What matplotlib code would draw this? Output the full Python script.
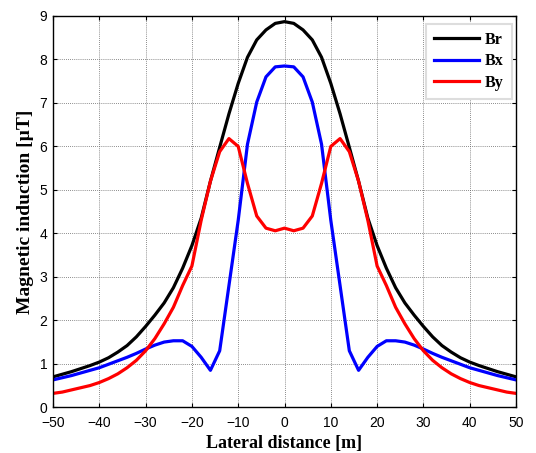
import matplotlib
matplotlib.use("Agg")
import matplotlib.pyplot as plt

x = [-50, -48, -46, -44, -42, -40, -38, -36, -34, -32, -30, -28, -26, -24, -22, -20,
     -18, -16, -14, -12, -10, -8, -6, -4, -2, 0,
     2, 4, 6, 8, 10, 12, 14, 16, 18,
     20, 22, 24, 26, 28, 30, 32, 34, 36, 38, 40, 42, 44, 46, 48, 50]

br = [0.70, 0.76, 0.82, 0.89, 0.96, 1.04, 1.14, 1.27, 1.42, 1.62, 1.86, 2.12, 2.40, 2.75, 3.20, 3.72,
      4.35, 5.20, 5.98, 6.75, 7.45, 8.05, 8.45, 8.68, 8.83, 8.87,
      8.83, 8.68, 8.45, 8.05, 7.45, 6.75, 5.98, 5.20, 4.35,
      3.72, 3.20, 2.75, 2.40, 2.12, 1.86, 1.62, 1.42, 1.27, 1.14, 1.04, 0.96, 0.89, 0.82, 0.76, 0.70]

bx = [0.63, 0.68, 0.73, 0.79, 0.85, 0.91, 0.99, 1.07, 1.15, 1.24, 1.34, 1.43, 1.50, 1.53, 1.53, 1.40,
      1.15, 0.85, 1.30, 2.80, 4.30, 6.05, 7.02, 7.60, 7.83, 7.85,
      7.83, 7.60, 7.02, 6.05, 4.30, 2.80, 1.30, 0.85, 1.15,
      1.40, 1.53, 1.53, 1.50, 1.43, 1.34, 1.24, 1.15, 1.07, 0.99, 0.91, 0.85, 0.79, 0.73, 0.68, 0.63]

by = [0.32, 0.35, 0.40, 0.45, 0.50, 0.57, 0.66, 0.77, 0.91, 1.08, 1.30, 1.58, 1.92, 2.30, 2.80, 3.25,
      4.30, 5.20, 5.88, 6.18, 6.00, 5.15, 4.40, 4.12, 4.06, 4.12,
      4.06, 4.12, 4.40, 5.15, 6.00, 6.18, 5.88, 5.20, 4.30,
      3.25, 2.80, 2.30, 1.92, 1.58, 1.30, 1.08, 0.91, 0.77, 0.66, 0.57, 0.50, 0.45, 0.40, 0.35, 0.32]

series_labels = ["Br", "Bx", "By"]
colors = ["black", "blue", "red"]
xticks = list(range(-50, 51, 10))
yticks = list(range(0, 10))

fig = plt.figure(figsize=(5.36, 4.53), dpi=100)
ax = fig.add_axes([0.0989, 0.1009, 0.8638, 0.8638])

for ys, lab, c in zip([br, bx, by], series_labels, colors):
    ax.plot(x, ys, color=c, lw=2.3, label=lab)

ax.set_xlim(-50, 50)
ax.set_ylim(0, 9)
ax.set_xticks(xticks)
ax.set_yticks(yticks)
ax.tick_params(direction="in", top=True, right=True, length=3, labelsize=10)
ax.tick_params(axis="x", pad=6)
ax.tick_params(axis="y", pad=4)
for lbl in ax.get_xticklabels() + ax.get_yticklabels():
    lbl.set_family("Liberation Sans")
ax.grid(True, color="#666666", linestyle=(0, (1, 1.5)), linewidth=0.6)
for s in ax.spines.values():
    s.set_linewidth(1.0)

ax.set_xlabel("Lateral distance [m]", family="Liberation Serif", fontweight="bold", fontsize=13, labelpad=4)
ax.set_ylabel("Magnetic induction [\u00b5T]", family="Liberation Serif", fontweight="bold", fontsize=14, labelpad=4)

leg = ax.legend(loc="upper right", bbox_to_anchor=(0.991, 0.98),
                prop={"family": "Liberation Serif", "weight": "bold", "size": 11.5},
                handlelength=2.8, handletextpad=0.4, fancybox=False, framealpha=1,
                edgecolor="#dddddd", borderaxespad=0.0, labelspacing=0.35, borderpad=0.5)
leg.get_frame().set_linewidth(1.5)

fig.savefig("out.png", dpi=100)
